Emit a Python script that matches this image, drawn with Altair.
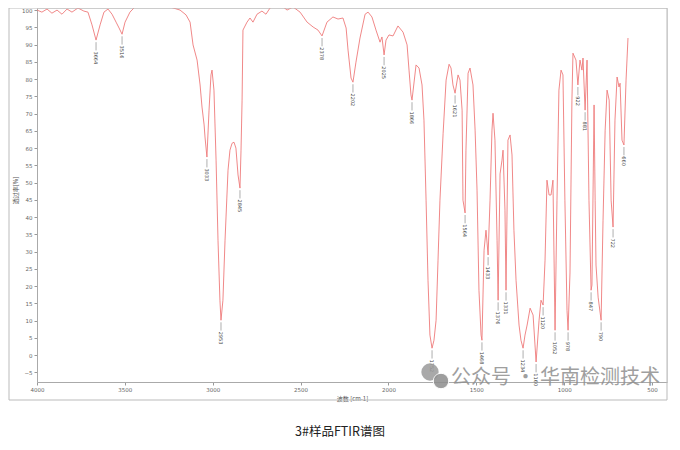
import altair as alt
import pandas as pd

# Spectrum (wavenumber cm-1, transmittance %)
wn = [4000,3972,3943,3915,3886,3858,3829,3801,3767,3733,
      3710,3687,3664,3641,3619,3596,3573,3550,3533,3516,
      3499,3471,3437,3402,3357,3300,3243,3186,3152,3129,
      3112,3089,3072,3061,3049,3044,3033,3021,3010,3004,
      2993,2981,2970,2959,2953,2942,2930,2913,2902,2890,
      2879,2868,2856,2845,2839,2833,2828,2805,2788,2771,
      2748,2720,2697,2674,2634,2606,2577,2543,2503,2463,
      2429,2401,2378,2350,2316,2287,2259,2241,2230,2213,
      2202,2185,2162,2133,2116,2094,2071,2048,2037,2025,
      2014,1997,1974,1946,1917,1894,1883,1872,1866,1843,
      1826,1809,1798,1786,1775,1764,1752,1741,1729,1718,
      1707,1689,1672,1655,1644,1633,1621,1604,1593,1581,
      1576,1564,1559,1547,1536,1519,1507,1496,1485,1473,
      1468,1456,1445,1433,1422,1411,1405,1394,1382,1376,
      1365,1354,1348,1337,1331,1320,1308,1297,1286,1274,
      1257,1246,1234,1223,1211,1194,1177,1160,1143,1132,
      1120,1109,1098,1086,1075,1064,1052,1041,1030,1018,
      1007,996,984,978,967,956,950,933,922,910,
      899,893,881,870,859,847,842,830,824,819,
      807,790,779,767,756,744,733,722,711,699,
      688,682,671,660,648,637]
trans = [100.0,99.4,100.3,99.1,100.0,98.8,100.3,99.4,100.6,99.7,
         99.4,95.7,91.3,95.7,99.4,100.3,98.8,96.5,94.8,93.0,
         96.5,99.4,101.2,101.7,102.0,101.7,100.9,100.0,98.6,96.5,
         89.9,85.5,78.3,71.9,66.7,63.2,57.4,71.0,81.2,82.6,
         76.8,56.5,33.3,15.9,10.1,15.9,33.3,53.6,59.4,61.4,
         61.7,60.0,52.2,48.4,59.4,73.9,94.2,96.5,97.7,96.5,
         98.8,99.7,98.8,100.6,102.0,101.2,100.0,100.9,99.4,96.5,
         95.1,94.2,92.5,96.5,98.0,97.4,97.7,94.8,88.4,80.3,
         79.1,84.9,91.9,98.8,99.4,98.0,94.2,90.7,92.2,87.0,
         91.3,92.8,92.5,95.4,93.6,89.9,82.6,75.4,73.9,84.1,
         83.2,78.3,68.1,44.9,21.7,5.8,2.0,4.3,10.1,27.5,
         44.9,64.3,79.7,84.3,83.2,78.3,75.9,81.2,79.7,71.0,
         44.9,41.2,59.4,81.7,83.2,78.3,65.2,47.8,18.8,5.8,
         4.3,30.4,36.2,29.0,44.9,65.2,70.1,62.3,33.3,15.9,
         52.5,56.5,59.4,42.0,18.8,62.3,63.8,58.0,36.2,21.7,
         8.7,4.3,2.0,5.8,8.7,13.6,11.6,-2.0,10.1,15.9,
         14.5,27.5,50.7,46.4,46.4,50.7,7.2,44.9,76.8,82.6,
         81.2,44.9,13.0,7.2,23.8,73.9,87.5,85.5,78.3,85.5,
         82.6,86.1,71.0,85.5,44.9,18.8,20.3,72.5,44.9,26.1,
         16.8,10.1,39.1,65.2,76.8,73.9,44.9,37.1,68.1,80.6,
         77.7,78.8,62.3,60.9,79.7,91.9]

# Peak labels
peak_wn = [3664,3516,3033,2953,2845,2378,2202,2025,1866,1752,1621,1564,1468,
           1433,1376,1331,1234,1160,1120,1052,978,922,881,847,790,722,660]
peak_T = [91.3,93.0,57.4,10.1,48.4,92.5,79.1,87.0,73.9,2.0,75.9,41.2,4.3,
          29.0,15.9,18.8,2.0,-2.0,14.5,7.2,7.2,78.3,71.0,18.8,10.1,37.1,60.9]

y_ticks = list(range(-5, 101, 5))
x_ticks = [4000, 3500, 3000, 2500, 2000, 1500, 1000, 500]

df = pd.DataFrame({"wn": wn, "T": trans, "i": list(range(len(wn)))})
pk = pd.DataFrame({"wn": peak_wn, "T": peak_T, "lab": [str(v) for v in peak_wn]})

W, H = 630, 374
xs = alt.Scale(domain=[415, 4000], reverse=True, nice=False, zero=False)
ys = alt.Scale(domain=[-7.8, 100.6], nice=False, zero=False)

x_axis = alt.Axis(values=x_ticks, format="d", title="波数 [cm-1]", titlePadding=3)
y_axis = alt.Axis(values=y_ticks, format="d", title="透过率[%]",
                  titleX=-22, titleY=182, titleAngle=-90,
                  titleAlign="center", titleBaseline="middle")

line = alt.Chart(df).mark_line(color="#ee7b7b", strokeWidth=0.9, clip=True).encode(
    x=alt.X("wn:Q", scale=xs, axis=x_axis),
    y=alt.Y("T:Q", scale=ys, axis=y_axis),
    order="i:Q",
)

leaders = alt.Chart(pk).transform_calculate(
    y1="datum.T - 0.6", y2="datum.T - 3"
).mark_rule(color="#777", strokeWidth=0.6).encode(
    x=alt.X("wn:Q", scale=xs, axis=x_axis),
    y=alt.Y("y1:Q", scale=ys, axis=y_axis), y2="y2:Q"
)

labels = alt.Chart(pk).transform_calculate(
    ly="datum.T - 3.3"
).mark_text(angle=90, align="left", baseline="middle", fontSize=5,
            color="#444", font="DejaVu Sans").encode(
    x=alt.X("wn:Q", scale=xs, axis=x_axis),
    y=alt.Y("ly:Q", scale=ys, axis=y_axis), text="lab:N"
)

one = pd.DataFrame({"k": [0]})
frame = alt.Chart(one).mark_rect(filled=False, stroke="#bbb", strokeWidth=1).encode(
    x=alt.value(-28), x2=alt.value(630), y=alt.value(0), y2=alt.value(392)
)

wm_icon1 = alt.Chart(one).mark_point(filled=True, shape="circle", size=300,
                                     color="#9a9a9a", opacity=0.85).encode(
    x=alt.value(393), y=alt.value(364))
wm_icon2 = alt.Chart(one).mark_point(filled=True, shape="circle", size=240,
                                     color="#8d8d8d", opacity=0.85, stroke="white",
                                     strokeWidth=1).encode(
    x=alt.value(404), y=alt.value(373))
wm_text = alt.Chart(one).mark_text(text="公众号 · 华南检测技术", fontSize=20,
                                   font="Noto Sans CJK SC", color="#8f8f8f",
                                   opacity=0.85, align="left", baseline="middle").encode(
    x=alt.value(414), y=alt.value(370))

caption = alt.Chart(one).mark_text(text="3#样品FTIR谱图", fontSize=12.5,
                                   font="Noto Sans CJK SC", color="#222",
                                   align="center", baseline="middle").encode(
    x=alt.value(303), y=alt.value(424))

chart = alt.layer(line, frame, leaders, labels, wm_icon1, wm_icon2, wm_text, caption).properties(
    width=W, height=H,
    autosize=alt.AutoSizeParams(type="none"),
    padding={"left": 29, "top": 0, "right": 5, "bottom": 60},
).configure_view(stroke="#aaa", strokeWidth=1).configure(
    background="white"
).configure_axis(
    grid=False, labelOverlap=False, labelFlush=False,
    labelFontSize=5.5, labelColor="#666", tickSize=3,
    tickColor="#999", domainColor="#aaa", titleFontSize=6,
    titleFontWeight="normal", titleColor="#555",
    labelFont="DejaVu Sans", titleFont="Noto Sans CJK SC",
)

chart.save("out.html", embed_options={"renderer": "svg", "actions": False})
